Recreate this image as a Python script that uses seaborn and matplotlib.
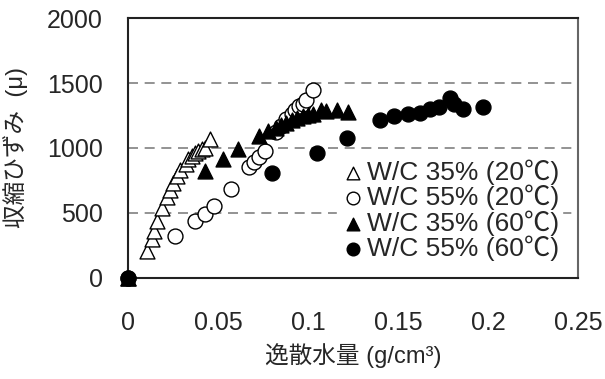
import pandas as pd
import seaborn as sns
import matplotlib.pyplot as plt

# W/C 35% (20C) - open triangles
x_35_20 = [0, 0.0106, 0.0133, 0.0144, 0.016, 0.019, 0.0217, 0.0233, 0.025, 0.027,
           0.029, 0.032, 0.0333, 0.0355, 0.037, 0.039, 0.041, 0.043, 0.0455]
y_35_20 = [0, 208, 300, 362, 438, 538, 623, 677, 731, 785,
           830, 877, 915, 938, 962, 977, 992, 1000, 1069]

# W/C 55% (20C) - open circles
x_55_20 = [0, 0.026, 0.037, 0.043, 0.048, 0.057, 0.067, 0.070, 0.073, 0.076,
           0.082, 0.085, 0.088, 0.091, 0.093, 0.095, 0.097, 0.099, 0.103]
y_55_20 = [0, 320, 440, 495, 555, 685, 850, 890, 930, 975,
           1120, 1170, 1220, 1260, 1290, 1320, 1340, 1370, 1450]

# W/C 35% (60C) - filled triangles
x_35_60 = [0, 0.043, 0.053, 0.061, 0.073, 0.078, 0.082, 0.085, 0.088, 0.091,
           0.094, 0.097, 0.100, 0.103, 0.107, 0.110, 0.116, 0.122]
y_35_60 = [0, 820, 915, 995, 1095, 1130, 1155, 1175, 1195, 1215,
           1230, 1245, 1255, 1265, 1290, 1285, 1290, 1275]

# W/C 55% (60C) - filled circles
x_55_60 = [0, 0.080, 0.105, 0.1216, 0.140, 0.148, 0.1556, 0.162, 0.168, 0.173,
           0.179, 0.181, 0.186, 0.197]
y_55_60 = [0, 808, 965, 1077, 1215, 1246, 1262, 1270, 1300, 1315,
           1385, 1338, 1300, 1315]

labels = ["W/C 35% (20℃)", "W/C 55% (20℃)", "W/C 35% (60℃)", "W/C 55% (60℃)"]

sns.set_style("white")
plt.rcParams["font.family"] = ["Liberation Sans", "Noto Sans CJK JP"]
plt.rcParams["font.size"] = 18

fig = plt.figure(figsize=(6.05, 3.79), dpi=100)
ax = fig.add_axes([0.2116, 0.2665, 0.7438, 0.686])

series = [
    (x_35_20, y_35_20, "^", "white"),
    (x_55_20, y_55_20, "o", "white"),
    (x_35_60, y_35_60, "^", "black"),
    (x_55_60, y_55_60, "o", "black"),
]
for (xs, ys, mk, fc), lab in zip(series, labels):
    df = pd.DataFrame({"x": xs, "y": ys})
    sns.scatterplot(data=df, x="x", y="y", marker=mk, color=fc, edgecolor="black",
                    linewidth=1.0, s=115, label=lab, ax=ax, clip_on=False, zorder=3)

ax.set_xlim(0, 0.25)
ax.set_ylim(0, 2000)
ax.set_xticks([0, 0.05, 0.1, 0.15, 0.2, 0.25])
ax.set_xticklabels(["0", "0.05", "0.1", "0.15", "0.2", "0.25"])
ax.set_yticks([0, 500, 1000, 1500, 2000])

for y in [500, 1000, 1500]:
    ax.axhline(y, color="#808080", linestyle=(0, (6, 4)), linewidth=1.2, zorder=1)

for side in ["left", "bottom", "top"]:
    ax.spines[side].set_color("#222222")
    ax.spines[side].set_linewidth(1.5)
ax.spines["right"].set_color("#666666")
ax.spines["right"].set_linewidth(1.5)

ax.tick_params(axis="x", direction="in", length=7, width=1.2, pad=24, labelsize=18)
ax.tick_params(axis="y", direction="in", length=6, width=1.2, pad=18, labelsize=18)

ax.set_xlabel("逸散水量 (g/cm³)", fontsize=17)
ax.set_ylabel("収縮ひずみ  (μ)", fontsize=17)
ax.xaxis.set_label_coords(0.5, -0.25)
ax.yaxis.set_label_coords(-0.222, 0.5)

leg = ax.legend(loc="lower right", bbox_to_anchor=(0.965, 0.055), frameon=True,
                fontsize=19, handlelength=1.0, handletextpad=0.05, labelspacing=0.0,
                borderpad=0.1, markerscale=0.85, borderaxespad=0)
leg.get_frame().set_edgecolor("white")
leg.get_frame().set_facecolor("white")
leg.get_frame().set_alpha(1)
leg.set_zorder(2)

fig.savefig("out.png", dpi=100)
